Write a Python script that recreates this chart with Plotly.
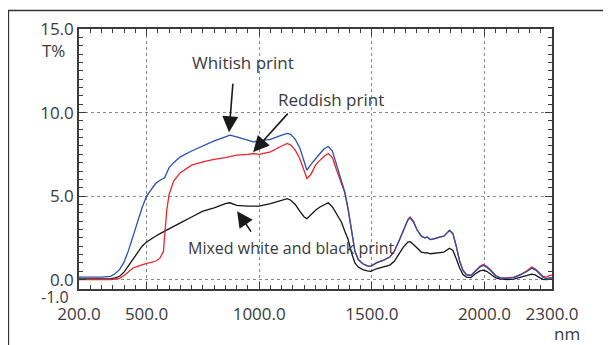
import plotly.graph_objects as go

wavelength = [200, 250, 300, 340, 360, 380, 400, 420, 440, 460, 480, 500, 520, 540, 560, 575, 580, 590,
              600, 620, 650, 700, 750, 800, 850, 870, 900, 950, 975, 1000, 1050, 1100, 1125, 1140, 1160,
              1180, 1200, 1212, 1230, 1250, 1270, 1290, 1307, 1325, 1345, 1365, 1380, 1395, 1410, 1425,
              1440, 1460, 1480, 1495, 1520, 1550, 1580, 1600, 1620, 1640, 1660, 1670, 1685, 1700, 1720,
              1735, 1745, 1760, 1780, 1800, 1820, 1845, 1860, 1875, 1890, 1905, 1920, 1940, 1960, 1980,
              1995, 2010, 2030, 2050, 2070, 2100, 2130, 2160, 2190, 2210, 2225, 2245, 2260, 2275, 2290, 2300]

whitish = [0.15, 0.15, 0.15, 0.2, 0.35, 0.6, 1.05, 1.75, 2.6, 3.5, 4.3, 5.0, 5.4, 5.75, 5.95, 6.05, 6.1, 6.4,
           6.7, 7.0, 7.35, 7.7, 8.0, 8.3, 8.55, 8.65, 8.55, 8.35, 8.25, 8.3, 8.4, 8.65, 8.75, 8.7, 8.4,
           7.9, 7.0, 6.55, 6.9, 7.25, 7.55, 7.85, 7.97, 7.7, 6.8, 5.9, 5.25, 4.2, 2.9, 1.7,
           1.2, 0.95, 0.82, 0.8, 1.0, 1.15, 1.35, 1.7, 2.3, 2.95, 3.55, 3.7, 3.45, 3.0, 2.6,
           2.5, 2.55, 2.4, 2.45, 2.55, 2.6, 2.95, 2.75, 2.0, 1.1, 0.55, 0.3, 0.25, 0.5, 0.75,
           0.85, 0.75, 0.5, 0.2, 0.1, 0.08, 0.12, 0.28, 0.5, 0.68, 0.6, 0.35, 0.15, 0.05, 0.12, 0.1]

reddish = [0.0, 0.0, -0.02, 0.0, 0.03, 0.08, 0.25, 0.5, 0.7, 0.8, 0.9, 0.97, 1.03, 1.1, 1.3, 1.7, 2.6, 4.2,
           5.1, 5.9, 6.4, 6.85, 7.05, 7.2, 7.3, 7.35, 7.45, 7.5, 7.55, 7.5, 7.65, 8.0, 8.15, 8.05, 7.75,
           7.25, 6.45, 6.05, 6.3, 6.85, 7.15, 7.4, 7.55, 7.3, 6.5, 5.8, 5.2, 4.2, 2.9, 1.7,
           1.2, 0.95, 0.82, 0.8, 1.0, 1.15, 1.35, 1.7, 2.3, 3.0, 3.6, 3.75, 3.5, 3.0, 2.6,
           2.5, 2.55, 2.4, 2.45, 2.55, 2.6, 2.95, 2.75, 2.0, 1.1, 0.55, 0.3, 0.25, 0.5, 0.8,
           0.9, 0.8, 0.55, 0.25, 0.12, 0.1, 0.15, 0.3, 0.55, 0.75, 0.65, 0.4, 0.2, 0.15, 0.25, 0.25]

mixed = [0.05, 0.05, 0.05, 0.05, 0.1, 0.2, 0.45, 0.85, 1.25, 1.65, 2.0, 2.25, 2.45, 2.6, 2.75, 2.85, 2.9, 2.97,
         3.02, 3.15, 3.4, 3.75, 4.1, 4.3, 4.55, 4.6, 4.45, 4.4, 4.38, 4.4, 4.55, 4.75, 4.85, 4.75, 4.5,
         4.1, 3.75, 3.65, 3.9, 4.15, 4.35, 4.5, 4.6, 4.35, 3.9, 3.45, 2.9, 2.4, 1.6, 1.0,
         0.75, 0.6, 0.52, 0.5, 0.65, 0.75, 0.87, 1.1, 1.55, 1.95, 2.25, 2.27, 2.1, 1.9, 1.65,
         1.6, 1.62, 1.55, 1.57, 1.6, 1.65, 1.88, 1.75, 1.25, 0.7, 0.3, 0.15, 0.12, 0.35, 0.52,
         0.57, 0.5, 0.3, 0.1, 0.05, 0.0, 0.03, 0.12, 0.25, 0.33, 0.28, 0.12, 0.02, 0.0, 0.05, 0.05]

x_tickvals = [200, 500, 1000, 1500, 2000, 2300]
x_ticktext = ["200.0", "500.0", "1000.0", "1500.0", "2000.0", "2300.0"]
y_tickvals = [0, 5, 10, 15]
y_ticktext = ["0.0", "5.0", "10.0", "15.0"]

TXT = "#3a3a3a"
AX = "#3d3a3a"
FONT = "Open Sans"

fig = go.Figure()
fig.add_trace(go.Scatter(x=wavelength, y=mixed, mode="lines", line=dict(color="#151515", width=1.3)))
fig.add_trace(go.Scatter(x=wavelength, y=reddish, mode="lines", line=dict(color="#e8262a", width=1.3)))
fig.add_trace(go.Scatter(x=wavelength, y=whitish, mode="lines", line=dict(color="#2552b0", width=1.3)))

axis_common = dict(
    showline=True, linecolor=AX, linewidth=1.6, mirror="ticks",
    ticks="inside", tickcolor=AX, tickwidth=1.2, ticklen=7,
    showgrid=True, gridcolor="#8a8a8a", griddash="dot", gridwidth=1,
    zeroline=False,
    tickfont=dict(family=FONT, size=17, color=TXT),
)

fig.update_xaxes(range=[200, 2300], tickvals=x_tickvals, ticktext=x_ticktext, ticklabelstandoff=9,
                 minor=dict(dtick=50, tick0=200, ticks="inside", ticklen=4, tickcolor=AX, tickwidth=1.2,
                            showgrid=False),
                 **axis_common)
fig.update_yaxes(range=[-0.56, 15], tickvals=y_tickvals, ticktext=y_ticktext,
                 minor=dict(dtick=0.5, tick0=0, ticks="inside", ticklen=4, tickcolor=AX, tickwidth=1.2,
                            showgrid=False),
                 **axis_common)

# page body margin of 8px shifts the figure; compensate
OFF = 8
W, H = 611 - OFF, 345 - OFF
L, R, T, B = 71, 59, 21, 56
pw, ph = W - L - R, H - T - B


def px(xp):
    return (xp - OFF - L) / pw


def py(yp):
    return (H - B - (yp - OFF)) / ph


def label(text, xp, yp, size=17, family=FONT, xanchor="center"):
    return dict(text=text, x=px(xp), y=py(yp), xref="paper", yref="paper", showarrow=False,
                xanchor=xanchor, yanchor="middle", font=dict(family=family, size=size, color=TXT))


annots = [
    label("Whitish print", 243, 62),
    label("Reddish print", 331, 99),
    label("Mixed white and black print", 291, 248, size=16),
    label("T%", 40, 50, xanchor="left"),
    label("-1.0", 71, 297, size=16, xanchor="right"),
    label("nm", 567, 333),
    # arrows
    dict(text="", x=866, y=8.82, xref="x", yref="y", showarrow=True, ax=4, ay=-50,
         arrowhead=2, arrowsize=2.0, arrowwidth=1.6, arrowcolor="#1a1a1a"),
    dict(text="", x=973, y=7.63, xref="x", yref="y", showarrow=True, ax=36, ay=-40,
         arrowhead=2, arrowsize=2.0, arrowwidth=1.6, arrowcolor="#1a1a1a"),
    dict(text="", x=902, y=4.1, xref="x", yref="y", showarrow=True, ax=15, ay=22,
         arrowhead=2, arrowsize=2.0, arrowwidth=1.6, arrowcolor="#1a1a1a"),
]

shapes = [
    dict(type="line", xref="paper", yref="paper", x0=px(8), x1=px(640), y0=py(10.5), y1=py(10.5),
         line=dict(color="#333333", width=1.3)),
    dict(type="line", xref="paper", yref="paper", x0=px(8.5), x1=px(8.5), y0=py(10), y1=py(360),
         line=dict(color="#333333", width=1.3)),
]

fig.update_layout(
    width=W, height=H,
    margin=dict(l=L, r=R, t=T, b=B, autoexpand=False),
    paper_bgcolor="white", plot_bgcolor="white",
    showlegend=False,
    annotations=annots,
    shapes=shapes,
    font=dict(family=FONT, color=TXT),
)

fig.write_html("out.html")
